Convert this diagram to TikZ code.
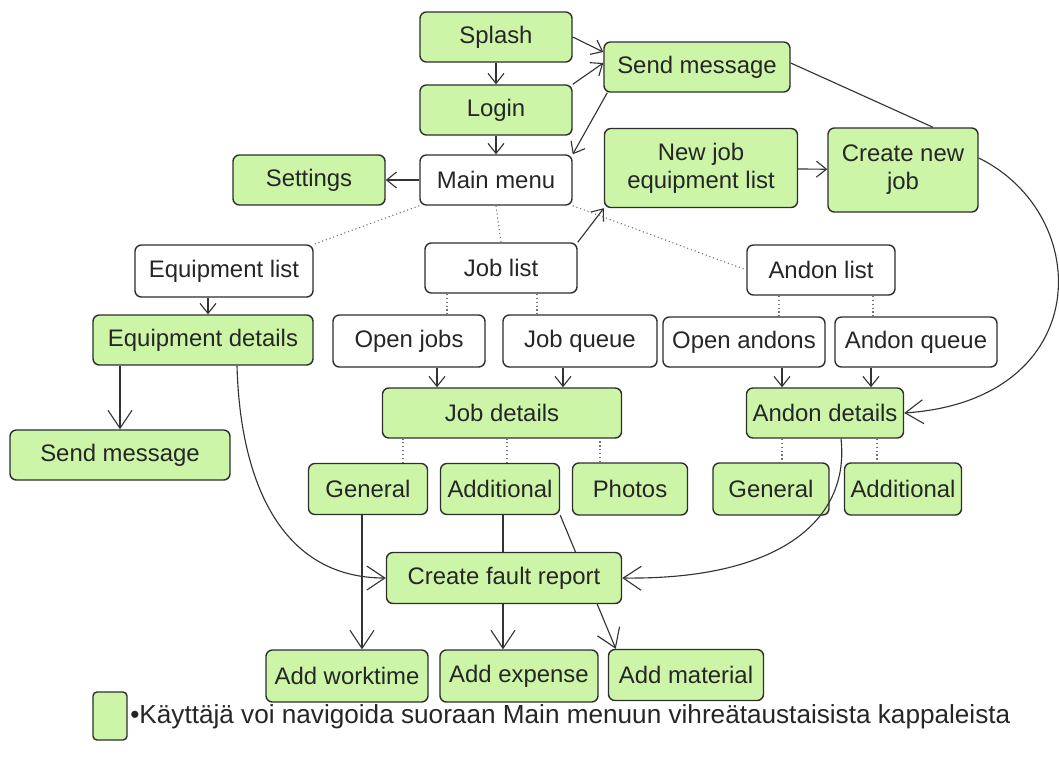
\documentclass[tikz,border=0pt]{standalone}
\usepackage{fontspec}
\setmainfont{Liberation Sans}
\usetikzlibrary{arrows.meta}
\pgfdeclarelayer{bg}
\pgfsetlayers{bg,main}
\definecolor{boxgreen}{HTML}{CCF5A8}
\definecolor{boxline}{HTML}{2E2E2E}
\tikzset{
  box/.style={draw=boxline, line width=1pt, rounded corners=1.6mm, minimum height=1.25cm,
    inner sep=0pt, font=\fontsize{17}{20}\selectfont, text=black!85},
  gbox/.style={box, fill=boxgreen},
  wbox/.style={box, fill=white},
  link/.style={draw=black!80, line width=0.8pt, -{Straight Barb[length=2.5mm,width=4mm]}},
  biglink/.style={draw=black!80, line width=0.8pt, -{Straight Barb[length=4.5mm,width=6mm]}},
  plain/.style={draw=black!80, line width=0.8pt},
  dots/.style={draw=black!55, dotted, line width=0.8pt},
}

\begin{document}
\begin{tikzpicture}[x=0.025cm, y=-0.025cm]
		\useasboundingbox (0,0) rectangle (1059,776);
		
		%%%%% TOP %%%%%
		\node[gbox, minimum width=3.8cm] (splash) at (496,37) {Splash};
		\node[gbox, minimum width=3.8cm] (login) at (496,110) {Login};
		\node[wbox, minimum width=3.8cm] (mainmenu) at (496,180) {Main menu};
		\node[gbox, minimum width=3.8cm] (settings) at (309,180) {Settings};
		\node[gbox, minimum width=4.65cm] (sendtop) at (697,67) {Send message};
		\node[gbox, minimum width=4.825cm, minimum height=1.975cm, align=center] (newjob) at (701,168) {New job\\equipment list};
		\node[gbox, minimum width=3.75cm, minimum height=2.1cm, align=center] (createjob) at (903,170) {Create new\\job};
		
		%%%%% LISTS %%%%%
		\node[wbox, minimum width=4.45cm, minimum height=1.3cm] (equiplist) at (224,271) {Equipment list};
		\node[wbox, minimum width=3.8cm] (joblist) at (501,268) {Job list};
		\node[wbox, minimum width=3.7cm] (andonlist) at (821,270) {Andon list};
		
		\node[gbox, minimum width=5.5cm] (equipdet) at (203,340) {Equipment details};
		\node[wbox, minimum width=3.8cm, minimum height=1.3cm] (openjobs) at (409,341) {Open jobs};
		\node[wbox, minimum width=3.85cm, minimum height=1.3cm] (jobqueue) at (580,341) {Job queue};
		\node[wbox, minimum width=4.05cm] (openandons) at (744,342) {Open andons};
		\node[wbox, minimum width=4.05cm] (andonqueue) at (916,342) {Andon queue};
		
		%%%%% DETAILS %%%%%
		\node[gbox, minimum width=5.975cm] (jobdet) at (502,413) {Job details};
		\node[gbox, minimum width=3.925cm] (andondet) at (825,413) {Andon details};
		\node[gbox, minimum width=5.5cm] (sendleft) at (120,455) {Send message};
		
		\node[gbox, minimum width=2.975cm, minimum height=1.275cm] (jobgen) at (368,489) {General};
		\node[gbox, minimum width=2.975cm, minimum height=1.275cm] (jobadd) at (500,489) {Additional};
		\node[gbox, minimum width=2.875cm, minimum height=1.3cm] (photos) at (630,489) {Photos};
		\node[gbox, minimum width=2.9cm, minimum height=1.3cm] (andongen) at (771,489) {General};
		\node[gbox, minimum width=2.925cm, minimum height=1.3cm] (andonadd) at (903,489) {Additional};
		
		%%%%% BOTTOM %%%%%
		\node[gbox, minimum width=5.875cm, minimum height=1.275cm] (fault) at (504,578) {Create fault report};
		\node[gbox, minimum width=4.05cm, minimum height=1.3cm] (worktime) at (347,676) {Add worktime};
		\node[gbox, minimum width=3.95cm, minimum height=1.3cm] (expense) at (519,676) {Add expense};
		\node[gbox, minimum width=3.875cm, minimum height=1.275cm] (material) at (686,675) {Add material};
		
		%%%%% LEGEND %%%%%
		\node[gbox, minimum width=0.85cm, minimum height=1.2cm, rounded corners=1mm] (legendbox) at (110,716) {};
		\node[anchor=west, font=\fontsize{18.6}{22}\selectfont, text=black!85, inner sep=0pt] (legendtext) at (130,717)
			{•Käyttäjä voi navigoida suoraan Main menuun vihreätaustaisista kappaleista};
		
		%%%%% ARROWS %%%%%
		\draw[link] (splash) -- (login);
		\draw[link] (login) -- (mainmenu);
		\draw[link] (splash.east) -- ([yshift=0.375cm]sendtop.west);
		\draw[link] (login.north east) -- ([yshift=0.1cm]sendtop.west);
		\draw[link] ([xshift=0.1cm]sendtop.south west) -- (mainmenu.north east);
		\draw[link] (mainmenu) -- (settings);
		\draw[link] (joblist.north east) -- (newjob.south west);
		\draw[link] (newjob) -- (createjob);
		
		\draw[dots] (mainmenu.south west) -- (equiplist.north east);
		\draw[dots] (mainmenu.south) -- (joblist.north);
		\draw[dots] (mainmenu.south east) -- (andonlist.west);
		
		\draw[link] ([xshift=-0.4cm]equiplist.south) -- ([xshift=-0.4cm]equiplist.south |- equipdet.north);
		\draw[biglink] (equipdet.south -| sendleft.north) -- (sendleft.north);
		
		\draw[dots] ([xshift=-1.35cm]joblist.south) -- ([xshift=-1.35cm]joblist.south |- openjobs.north);
		\draw[dots] ([xshift=0.9cm]joblist.south) -- ([xshift=0.9cm]joblist.south |- jobqueue.north);
		\draw[dots] ([xshift=-1.05cm]andonlist.south) -- ([xshift=-1.05cm]andonlist.south |- openandons.north);
		\draw[dots] ([xshift=1.3cm]andonlist.south) -- ([xshift=1.3cm]andonlist.south |- andonqueue.north);
		
		\draw[link] ([xshift=0.7cm]openjobs.south) -- ([xshift=0.7cm]openjobs.south |- jobdet.north);
		\draw[link] ([xshift=-0.425cm]jobqueue.south) -- ([xshift=-0.425cm]jobqueue.south |- jobdet.north);
		\draw[link] ([xshift=0.95cm]openandons.south) -- ([xshift=0.95cm]openandons.south |- andondet.north);
		\draw[link] ([xshift=-1.125cm]andonqueue.south) -- ([xshift=-1.125cm]andonqueue.south |- andondet.north);
		
		\draw[dots] ([xshift=0.875cm]jobgen.north) -- ([xshift=0.875cm]jobgen.north |- jobdet.south);
		\draw[dots] ([xshift=0.175cm]jobadd.north) -- ([xshift=0.175cm]jobadd.north |- jobdet.south);
		\draw[dots] ([xshift=-0.75cm]photos.north) -- ([xshift=-0.75cm]photos.north |- jobdet.south);
		\draw[dots] ([xshift=-1.075cm]andondet.south) -- ([xshift=-1.075cm]andondet.south |- andongen.north);
		\draw[dots] ([xshift=1.3cm]andondet.south) -- ([xshift=1.3cm]andondet.south |- andonadd.north);
		
		\draw[biglink] ([xshift=0.4cm]andondet.south) .. controls (850,520) and (780,580) .. (fault.east);
		
		\begin{pgfonlayer}{bg}
		\draw[plain] ([yshift=0.1cm]sendtop.east) -- ([xshift=0.75cm]createjob.north);
		\draw[biglink] ([yshift=0.3cm]createjob.east) .. controls (1095,215) and (1095,400) .. (andondet.east);
		\draw[biglink] ([xshift=0.85cm]equipdet.south) .. controls (240,480) and (280,578) .. (fault.west);
		\draw[biglink] ([xshift=-0.15cm]jobgen.south) -- ([xshift=-0.15cm]jobgen.south |- worktime.north);
		\draw[biglink] ([xshift=0.075cm]jobadd.south) -- ([xshift=0.075cm]jobadd.south |- expense.north);
		\draw[biglink] (jobadd.south east) -- ([xshift=0.2cm]material.north west);
		\end{pgfonlayer}
		
	\end{tikzpicture}
\end{document}
